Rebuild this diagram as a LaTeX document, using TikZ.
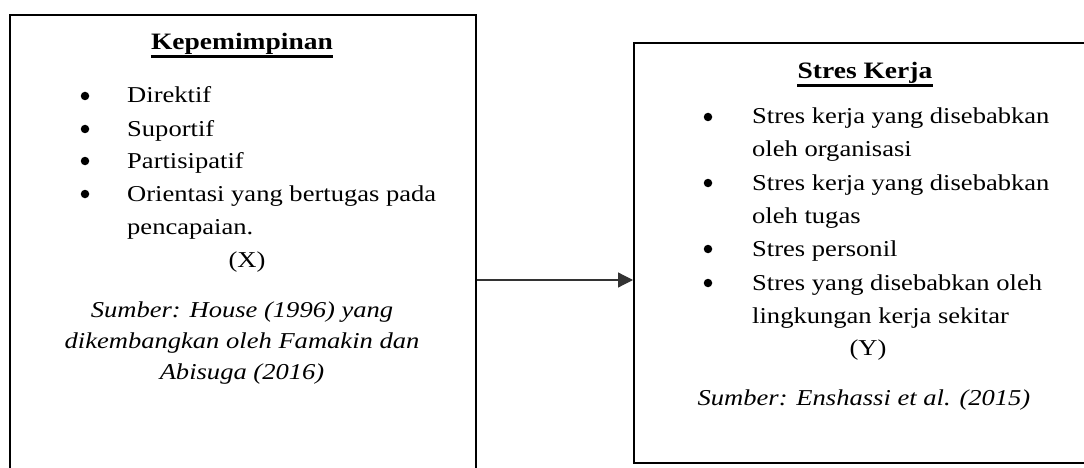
\documentclass[tikz,border=0pt]{standalone}
\usepackage{fontspec}
\setmainfont{Liberation Serif}[FakeStretch=1.17]
\usetikzlibrary{arrows.meta}
\begin{document}
\begin{tikzpicture}[x=1pt,y=-1pt,
  frame/.style={draw=black,line width=2pt,inner sep=0pt,anchor=north west},
  txt/.style={inner sep=0pt,anchor=base west,font=\fontsize{22.7}{27}\selectfont},
  ctr/.style={inner sep=0pt,anchor=base,font=\fontsize{22.7}{27}\selectfont},
  itl/.style={inner sep=0pt,anchor=base,font=\fontsize{22.7}{27}\selectfont\itshape},
  head/.style={inner sep=0pt,anchor=base,font=\fontsize{23.5}{27}\selectfont\bfseries},
  bul/.style={circle,fill=black,inner sep=0pt,minimum size=8.5pt},
  uline/.style={line width=2.2pt},
  link/.style={line width=1.2pt,draw=black!80,-{Triangle[length=15pt,width=15pt]}}]
\useasboundingbox (0,0) rectangle (1084,468);
\clip (0,0) rectangle (1084,468);
\fill[white] (0,0) rectangle (1084,468);
% boxes
\node[frame,minimum width=466pt,minimum height=520pt] (L) at (9,14) {};
\node[frame,minimum width=500pt,minimum height=420pt] (R) at (633,42) {};
% left box
\node[head] (h1) at (242,50) {Kepemimpinan};
\draw[uline] ([yshift=-6.5pt]h1.base west) -- ([yshift=-6.5pt]h1.base east);
\node[bul] (lb1) at (85,96) {};
\node[txt] (lt1) at (127,103) {Direktif};
\node[bul] (lb2) at (85,129) {};
\node[txt] (lt2) at (127,136) {Suportif};
\node[bul] (lb3) at (85,161) {};
\node[txt] (lt3) at (127,168) {Partisipatif};
\node[bul] (lb4) at (85,194) {};
\node[txt] (lt4) at (127,201) {Orientasi yang bertugas pada};
\node[txt] (lt5) at (127,234) {pencapaian.};
\node[ctr] (lx) at (247,267) {(X)};
\node[itl] (ls1) at (242,317) {Sumber: House (1996) yang};
\node[itl] (ls2) at (242,348) {dikembangkan oleh Famakin dan};
\node[itl] (ls3) at (242,379) {Abisuga (2016)};
% right box
\node[head] (h2) at (865,79) {Stres Kerja};
\draw[uline] ([yshift=-6.5pt]h2.base west) -- ([yshift=-6.5pt]h2.base east);
\node[bul] (rb1) at (708,117) {};
\node[txt] (rt1) at (752,124) {Stres kerja yang disebabkan};
\node[txt] (rt2) at (752,157) {oleh organisasi};
\node[bul] (rb3) at (708,183) {};
\node[txt] (rt3) at (752,190) {Stres kerja yang disebabkan};
\node[txt] (rt4) at (752,223) {oleh tugas};
\node[bul] (rb5) at (708,249) {};
\node[txt] (rt5) at (752,256) {Stres personil};
\node[bul] (rb6) at (708,283) {};
\node[txt] (rt6) at (752,290) {Stres yang disebabkan oleh};
\node[txt] (rt7) at (752,323) {lingkungan kerja sekitar};
\node[ctr] (ry) at (868,355) {(Y)};
\node[itl] (rs) at (864,405) {Sumber: Enshassi et al. (2015)};
% connector
\draw[link] (L.east |- 0,280) -- (R.west |- 0,280);
\end{tikzpicture}
\end{document}
